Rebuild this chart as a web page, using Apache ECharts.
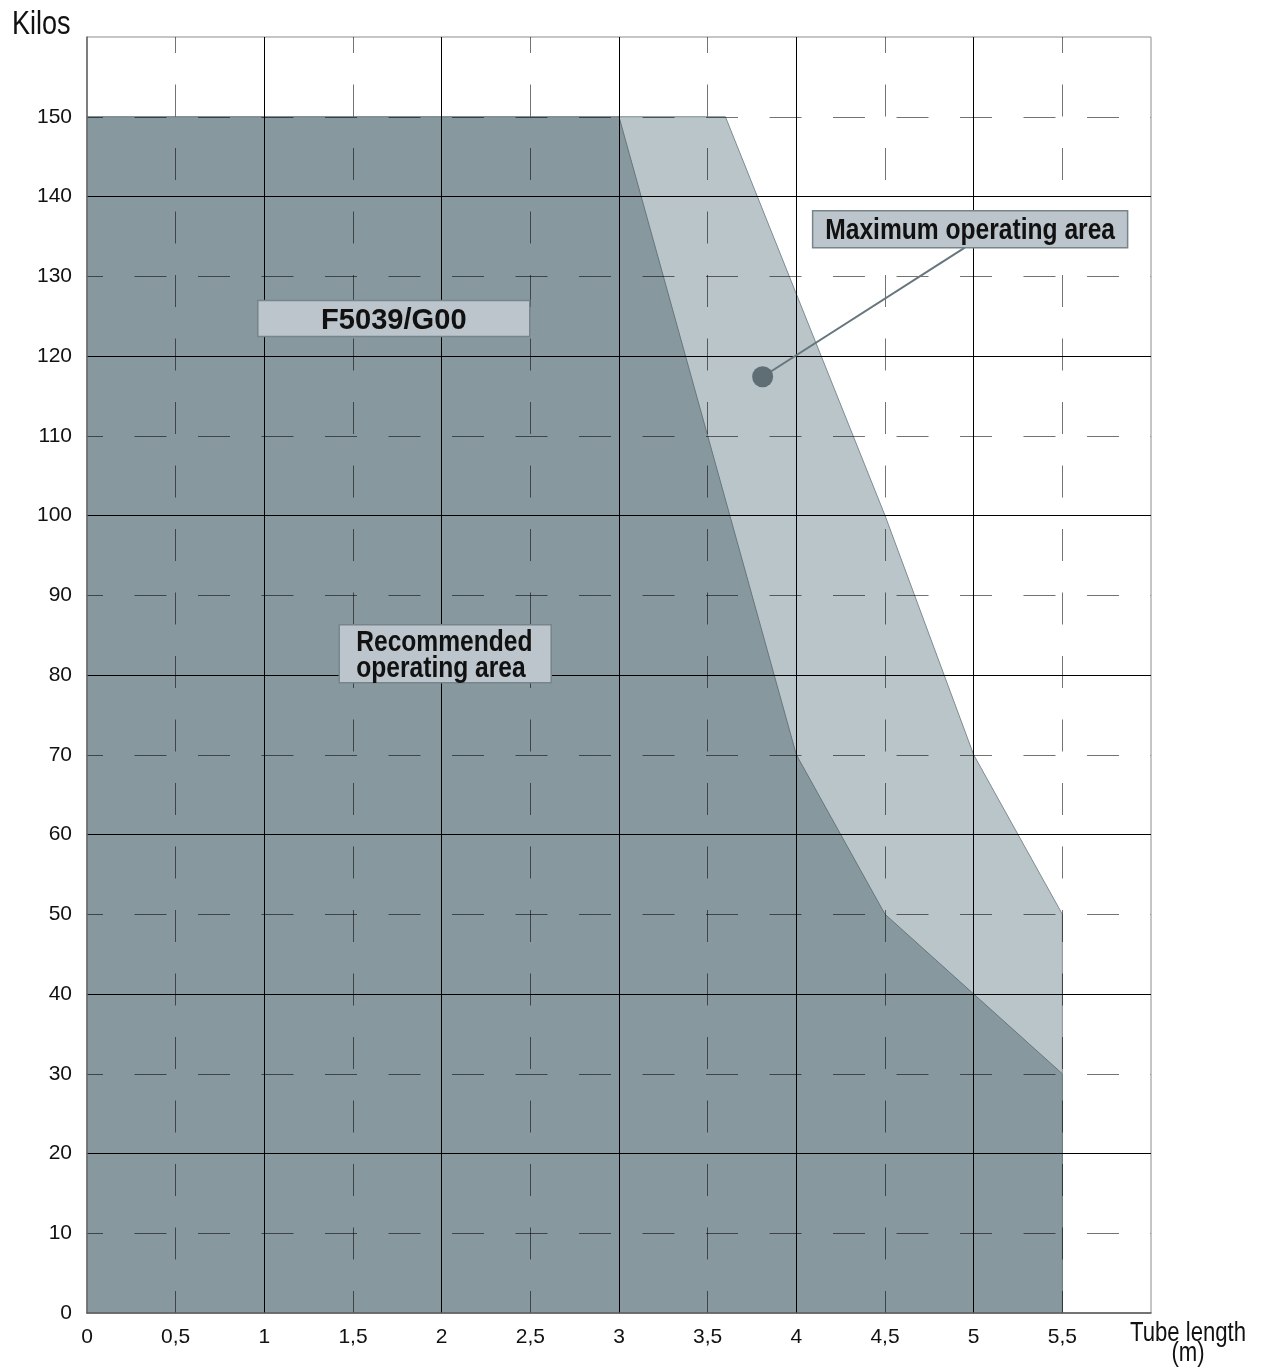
<!DOCTYPE html>
<html>
<head>
<meta charset="utf-8">
<script src="https://cdn.jsdelivr.net/npm/echarts@6/dist/echarts.min.js"></script>
<style>
  html, body { margin: 0; padding: 0; background: #fff; }
  #chart { width: 1267px; height: 1372px; }
</style>
</head>
<body>
<div id="chart"></div>
<script>
// boundary of the recommended (dark) area: tube length (m) -> kilos
const recommendedX = [0, 3, 4, 4.5, 5, 5.5, 5.5]
const recommendedY = [150, 150, 70, 50, 40, 30, 0]

// upper boundary of the maximum (light) area
const maximumX = [3, 3.6, 4.5, 5, 5.5, 5.5]
const maximumY = [150, 150, 100, 70, 50, 0]

// annotation boxes (centre of each box in data units)
const noteText = ['F5039/G00', 'Recommended\noperating area', 'Maximum operating area']
const noteX = [1.73, 2.02, 4.98]
const noteY = [124.7, 82.65, 135.9]

// pointer dot and leader line end
const dotX = [3.81]
const dotY = [117.4]
const leaderX = [3.81, 4.95]
const leaderY = [117.4, 133.6]

const sans = '"Liberation Sans", Arial, sans-serif'

const zip = (xs, ys) => xs.map((x, i) => [x, ys[i]])
const comma = v => String(v).replace('.', ',')

const dash = { type: [32, 31.5], dashOffset: 16, color: 'rgba(0,0,0,0.55)', width: 1 }
const solid = { type: 'solid', color: '#000', width: 1 }

const chart = echarts.init(document.getElementById('chart'), null, { renderer: 'canvas' })

chart.setOption({
  animation: false,
  grid: { left: 87, top: 37, right: 116, bottom: 59, show: true, borderColor: '#8c8c8c', borderWidth: 1 },
  xAxis: [
    {
      type: 'value', min: 0, max: 6, interval: 1, z: 3,
      axisLine: { show: false },
      axisTick: { show: false },
      axisLabel: { show: false },
      splitLine: { show: true, showMinLine: false, showMaxLine: false, lineStyle: solid },
    },
    {
      type: 'value', min: 0, max: 6, interval: 0.5, z: 3, position: 'bottom',
      axisLine: { show: true, onZero: false, lineStyle: { color: '#5a5a5a', width: 1.5 } },
      axisTick: { show: false },
      axisLabel: {
        margin: 14, fontFamily: sans, fontSize: 21, color: '#111',
        showMaxLabel: false, formatter: comma,
      },
      splitLine: { show: true, showMinLine: false, showMaxLine: false, lineStyle: dash },
    },
  ],
  yAxis: [
    {
      type: 'value', min: 0, max: 160, interval: 20, z: 3,
      axisLine: { show: false },
      axisTick: { show: false },
      axisLabel: { show: false },
      splitLine: { show: true, showMinLine: false, showMaxLine: false, lineStyle: solid },
    },
    {
      type: 'value', min: 0, max: 160, interval: 10, z: 3, position: 'left',
      axisLine: { show: true, onZero: false, lineStyle: { color: '#666', width: 1.5 } },
      axisTick: { show: false },
      axisLabel: {
        margin: 15, fontFamily: sans, fontSize: 21, color: '#111',
        showMaxLabel: false, padding: [0, 0, 12, 0],
      },
      splitLine: { show: true, showMinLine: false, showMaxLine: false, lineStyle: dash },
    },
  ],
  series: [
    {
      name: 'Maximum operating area', type: 'line', z: 1,
      xAxisIndex: 1, yAxisIndex: 1,
      data: zip(maximumX, maximumY),
      symbol: 'none',
      lineStyle: { color: '#7d8c92', width: 1 },
      areaStyle: { color: '#bac5c9', opacity: 1 },
    },
    {
      name: 'Recommended operating area', type: 'line', z: 2,
      xAxisIndex: 1, yAxisIndex: 1,
      data: zip(recommendedX, recommendedY),
      symbol: 'none',
      lineStyle: { color: '#66767c', width: 1 },
      areaStyle: { color: '#87999f', opacity: 1 },
    },
    {
      type: 'line', z: 5, xAxisIndex: 1, yAxisIndex: 1,
      data: zip(leaderX, leaderY),
      symbol: 'none',
      lineStyle: { color: '#66767d', width: 2 },
    },
    {
      type: 'scatter', z: 6, xAxisIndex: 1, yAxisIndex: 1,
      data: zip(dotX, dotY),
      symbolSize: 21,
      itemStyle: { color: '#5f6e75', opacity: 1 },
      emphasis: { disabled: true },
    },
  ],
})

// boxes: size in px, text scale (narrow look), left padding if left aligned
const boxW = [272, 212, 315]
const boxH = [36, 58, 37]
const boxScale = [0.97, 0.82, 0.82]
const boxPadLeft = [null, 17, null]

const notes = noteText.map((text, i) => {
  const [cx, cy] = chart.convertToPixel({ xAxisIndex: 1, yAxisIndex: 1 }, [noteX[i], noteY[i]])
  const left = boxPadLeft[i] != null
  return {
    type: 'group', x: cx, y: cy,
    children: [
      {
        type: 'rect', z: 100,
        shape: { x: -boxW[i] / 2, y: -boxH[i] / 2, width: boxW[i], height: boxH[i] },
        style: { fill: '#bcc5cb', stroke: '#76858b', lineWidth: 1.5 },
      },
      {
        type: 'text', z: 101,
        x: left ? -boxW[i] / 2 + boxPadLeft[i] : 0, y: 2,
        scaleX: boxScale[i],
        style: {
          text, fontFamily: sans, fontWeight: 'bold', fontSize: 30, lineHeight: 26,
          fill: '#111', align: left ? 'left' : 'center', verticalAlign: 'middle',
        },
      },
    ],
  }
})

chart.setOption({
  graphic: [
    ...notes,
    {
      type: 'text', x: 12, y: 8, scaleX: 0.82,
      style: { text: 'Kilos', fontFamily: sans, fontSize: 33, fill: '#111' },
    },
    {
      type: 'text', x: 1188, y: 1324, scaleX: 0.82,
      style: {
        text: 'Tube length\n(m)', fontFamily: sans, fontSize: 27, lineHeight: 20,
        fill: '#111', align: 'center', verticalAlign: 'top',
      },
    },
  ],
})
</script>
</body>
</html>
